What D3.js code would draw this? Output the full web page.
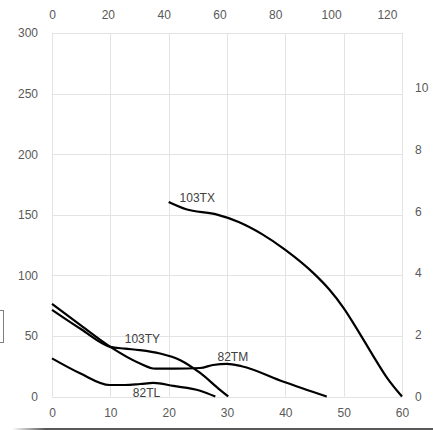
<!DOCTYPE html>
<html><head><meta charset="utf-8">
<script src="https://cdn.jsdelivr.net/npm/d3@7"></script>
<style>body{margin:0;background:#fff}svg{display:block}</style>
</head><body><div id="chart"></div>
<script>
// Data (x = flow on bottom axis, y = head on left axis)
const seriesNames = ["103TX", "103TY", "82TM", "82TL"];
const s103TX = [[20,160.5],[23,154.5],[28,150.5],[32,144],[36,134],[40,121],[45,101],[47.5,88.5],[50,73],[52.5,54],[55,34],[57.5,15],[60,0]];
const s103TY = [[0,71.5],[5,55.5],[10,41],[12.5,39.5],[15,38.3],[18.5,35.5],[22,30],[25.4,19.4],[28.8,5.4],[30.2,0]];
const s82TM = [[0,76.5],[5,58.5],[10,41],[15,27.5],[17.7,23],[21,23],[25.4,23.5],[27.6,26],[30,27],[32.5,25],[39.7,12.2],[47.1,0]];
const s82TL = [[0,31.5],[4.8,19.2],[9.9,9.5],[12.5,9.5],[15.1,10.3],[17.4,11.2],[20.8,8.7],[25.4,4.8],[28,0]];
const bottomTicks = [0,10,20,30,40,50,60];
const leftTicks = [0,50,100,150,200,250,300];
const topTicks = [0,20,40,60,80,100,120];
const rightTicks = [0,2,4,6,8,10];
const labels = [{t:"103TX",x:24.9,y:160.5},{t:"103TY",x:15.5,y:44},{t:"82TM",x:31,y:29.5},{t:"82TL",x:16.2,y:-0.5}];

const W = 433, H = 430;
const L = 52, R = 402, T = 33, B = 396.5;
const svg = d3.select("#chart").append("svg").attr("width", W).attr("height", H);
const font = "'Liberation Sans', Arial, sans-serif";

const x = d3.scaleLinear().domain([0,60]).range([L,R]);
const y = d3.scaleLinear().domain([0,300]).range([B,T]);
const xTop = d3.scaleLinear().domain([0,125.4]).range([L,R]);
const yRight = d3.scaleLinear().domain([0,11.78]).range([B,T]);

// gridlines
const g = svg.append("g");
g.selectAll(".hg").data(leftTicks).join("line")
  .attr("x1",L).attr("x2",R).attr("y1",d=>Math.round(y(d))+0.5).attr("y2",d=>Math.round(y(d))+0.5)
  .attr("stroke","#e3e3e3").attr("stroke-width",1);
g.selectAll(".vg").data(bottomTicks).join("line")
  .attr("y1",T).attr("y2",B).attr("x1",d=>Math.round(x(d))+0.5).attr("x2",d=>Math.round(x(d))+0.5)
  .attr("stroke","#e3e3e3").attr("stroke-width",1);

// axes (labels only)
function styleAxis(sel){
  sel.select(".domain").remove();
  sel.selectAll(".tick line").remove();
  sel.selectAll("text").attr("fill","#595959").attr("font-size","12px").attr("font-family",font);
}
svg.append("g").attr("transform",`translate(0,${B})`)
  .call(d3.axisBottom(x).tickValues(bottomTicks).tickSize(0).tickPadding(12)).call(styleAxis);
svg.append("g").attr("transform",`translate(${L},0)`)
  .call(d3.axisLeft(y).tickValues(leftTicks).tickSize(0).tickPadding(14)).call(styleAxis);
svg.append("g").attr("transform",`translate(0,${T})`)
  .call(d3.axisTop(xTop).tickValues(topTicks).tickSize(0).tickPadding(14)).call(styleAxis);
svg.append("g").attr("transform",`translate(${R},0)`)
  .call(d3.axisRight(yRight).tickValues(rightTicks).tickSize(0).tickPadding(13)).call(styleAxis);

// lines
const line = d3.line().x(d=>x(d[0])).y(d=>y(d[1])).curve(d3.curveMonotoneX);
[s103TX, s103TY, s82TM, s82TL].forEach(s=>{
  svg.append("path").attr("d", line(s)).attr("fill","none").attr("stroke","#000").attr("stroke-width",2.2);
});

// series labels
svg.selectAll(".lbl").data(labels).join("text")
  .attr("x",d=>x(d.x)).attr("y",d=>y(d.y)).attr("text-anchor","middle")
  .attr("font-size","12px").attr("font-family",font).attr("fill","#404040").text(d=>d.t);

// cut-off legend box
svg.append("rect").attr("x",-10).attr("y",310.5).attr("width",13.5).attr("height",32)
  .attr("fill","#fff").attr("stroke","#7f7f7f").attr("stroke-width",1);

// bottom border line with fade
const defs = svg.append("defs");
const grad = defs.append("linearGradient").attr("id","fade").attr("x1","0").attr("x2","1");
grad.append("stop").attr("offset","0").attr("stop-color","#595959").attr("stop-opacity",0);
grad.append("stop").attr("offset","0.08").attr("stop-color","#595959").attr("stop-opacity",1);
grad.append("stop").attr("offset","1").attr("stop-color","#595959").attr("stop-opacity",1);
svg.append("rect").attr("x",12).attr("y",428).attr("width",W-12).attr("height",2).attr("fill","url(#fade)");
</script></body></html>
